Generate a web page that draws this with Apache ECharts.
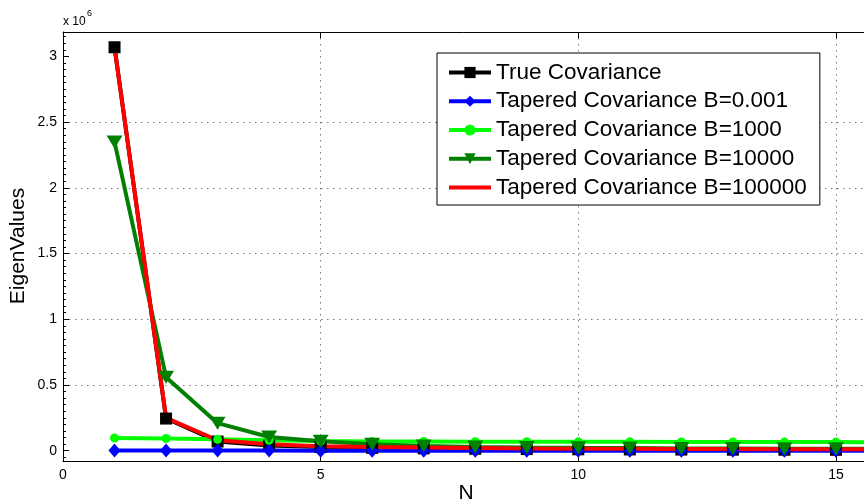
<!DOCTYPE html>
<html>
<head>
<meta charset="utf-8">
<script src="https://cdn.jsdelivr.net/npm/echarts@6/dist/echarts.min.js"></script>
<style>
  html, body { margin: 0; padding: 0; background: #fff; }
  #chart { width: 864px; height: 503px; }
</style>
</head>
<body>
<div id="chart"></div>
<script>
// Eigenvalue index
const N = [1, 2, 3, 4, 5, 6, 7, 8, 9, 10, 11, 12, 13, 14, 15, 16];

// Eigenvalues of each covariance estimate
const trueCov   = [3070000, 245000, 70000, 40000, 28000, 22000, 18000, 15000, 13000, 11000, 10000, 9000, 8000, 7500, 7000, 6500];
const taperB001 = [1200, 1100, 1000, 950, 900, 850, 800, 760, 720, 690, 660, 630, 600, 580, 560, 540];
const taperB1e3 = [97000, 93000, 87000, 79000, 74000, 71000, 70000, 69000, 69000, 68000, 68000, 67000, 67000, 66000, 66000, 65000];
const taperB1e4 = [2350000, 560000, 210000, 105000, 72000, 50000, 36000, 29000, 25000, 22000, 20000, 18000, 17000, 16000, 15000, 14000];
const taperB1e5 = [3070000, 250000, 80000, 50000, 35000, 28000, 24000, 21000, 18000, 16000, 15000, 14000, 13000, 12000, 11000, 10000];

const seriesNames = [
  'True Covariance',
  'Tapered Covariance B=0.001',
  'Tapered Covariance B=1000',
  'Tapered Covariance B=10000',
  'Tapered Covariance B=100000'
];

// Axis ticks
const yTickValues = [0, 500000, 1000000, 1500000, 2000000, 2500000, 3000000];
const yMinorStep = 50000;
const yMin = -78000;
const yMax = 3186000;
const xMin = 0;
const xMax = 16;
const xStep = 5;

const yMinorValues = [];
for (let v = -yMinorStep; v <= yMax; v += yMinorStep) yMinorValues.push(v);

const FONT = "'Liberation Sans', Arial, Helvetica, sans-serif";
const pairs = arr => N.map((n, i) => [n, arr[i]]);

const gridDash = { type: [1.5, 4.5], color: '#7a7a7a', width: 1 };
const blackLine = { color: '#000', width: 1 };

function lineSeries(name, data, color, symbol, size, extra) {
  return Object.assign({
    name: name,
    type: 'line',
    data: pairs(data),
    symbol: symbol,
    symbolSize: size,
    showSymbol: symbol !== 'none',
    showAllSymbol: true,
    lineStyle: { color: color, width: 4 },
    itemStyle: { color: color, borderWidth: 0 },
    emphasis: { disabled: true },
    animation: false
  }, extra || {});
}

const chart = echarts.init(document.getElementById('chart'), null, { renderer: 'canvas' });

chart.setOption({
  animation: false,
  backgroundColor: '#fff',
  grid: { left: 63, top: 32, bottom: 42, width: 16 * 51.53, containLabel: false, outerBoundsMode: 'none' },
  xAxis: [
    {
      type: 'value', min: xMin, max: xMax, interval: xStep, position: 'bottom',
      axisLine: { show: true, onZero: false, lineStyle: blackLine },
      axisTick: { show: true, inside: true, length: 6, lineStyle: blackLine },
      axisLabel: { color: '#000', fontSize: 14, fontFamily: FONT, margin: 7 },
      splitLine: { show: true, lineStyle: gridDash, showMinLine: false }
    },
    {
      type: 'value', min: xMin, max: xMax, interval: xStep, position: 'top',
      axisLine: { show: true, onZero: false, lineStyle: blackLine },
      axisTick: { show: true, inside: true, length: 6, lineStyle: blackLine },
      axisLabel: { show: false },
      splitLine: { show: false }
    }
  ],
  yAxis: [
    {
      type: 'value', min: yMin, max: yMax, position: 'left',
      axisLine: { show: true, onZero: false, lineStyle: blackLine },
      axisTick: { show: true, inside: true, length: 6, lineStyle: blackLine, customValues: yTickValues },
      axisLabel: {
        color: '#000', fontSize: 14, fontFamily: FONT, margin: 6,
        customValues: yTickValues,
        formatter: v => String(Math.round(v / 1e5) / 10)
      },
      splitLine: { show: true, lineStyle: gridDash, showMinLine: false, showMaxLine: false }
    },
    {
      type: 'value', min: yMin, max: yMax, position: 'left',
      axisLine: { show: false },
      axisTick: { show: true, inside: true, length: 3, lineStyle: blackLine, customValues: yMinorValues },
      axisLabel: { show: false },
      splitLine: { show: false }
    }
  ],
  legend: {
    data: [
      seriesNames[0],
      seriesNames[1],
      seriesNames[2],
      seriesNames[3],
      { name: seriesNames[4], itemStyle: { opacity: 0 } }
    ],
    orient: 'vertical',
    left: 437,
    top: 53,
    padding: [8, 13, 6, 10],
    itemWidth: 42,
    itemHeight: 14,
    itemGap: 5.75,
    backgroundColor: '#fff',
    borderColor: '#000',
    borderWidth: 1,
    borderRadius: 0,
    selectedMode: false,
    lineStyle: { width: 4 },
    textStyle: { color: '#000', fontSize: 22.5, fontFamily: FONT }
  },
  graphic: [
    {
      type: 'text', x: 63, y: 22,
      style: { text: 'x 10', fill: '#000', font: '12px ' + FONT, align: 'left', verticalAlign: 'middle' }
    },
    {
      type: 'text', x: 87, y: 14,
      style: { text: '6', fill: '#000', font: '9px ' + FONT, align: 'left', verticalAlign: 'middle' }
    },
    {
      type: 'text', x: 466, y: 493,
      style: { text: 'N', fill: '#000', font: '21px ' + FONT, align: 'center', verticalAlign: 'middle' }
    },
    {
      type: 'text', x: 18, y: 246, rotation: Math.PI / 2,
      style: { text: 'EigenValues', fill: '#000', font: '21px ' + FONT, align: 'center', verticalAlign: 'middle' }
    }
  ],
  series: [
    lineSeries(seriesNames[0], trueCov, '#000000', 'rect', 12),
    lineSeries(seriesNames[1], taperB001, '#0000ff', 'diamond', [12, 14]),
    lineSeries(seriesNames[2], taperB1e3, '#00ff00', 'circle', 9),
    lineSeries(seriesNames[3], taperB1e4, '#008000', 'triangle', [16, 13], { symbolRotate: 180 }),
    lineSeries(seriesNames[4], taperB1e5, '#ff0000', 'none', 0)
  ]
});
</script>
</body>
</html>
